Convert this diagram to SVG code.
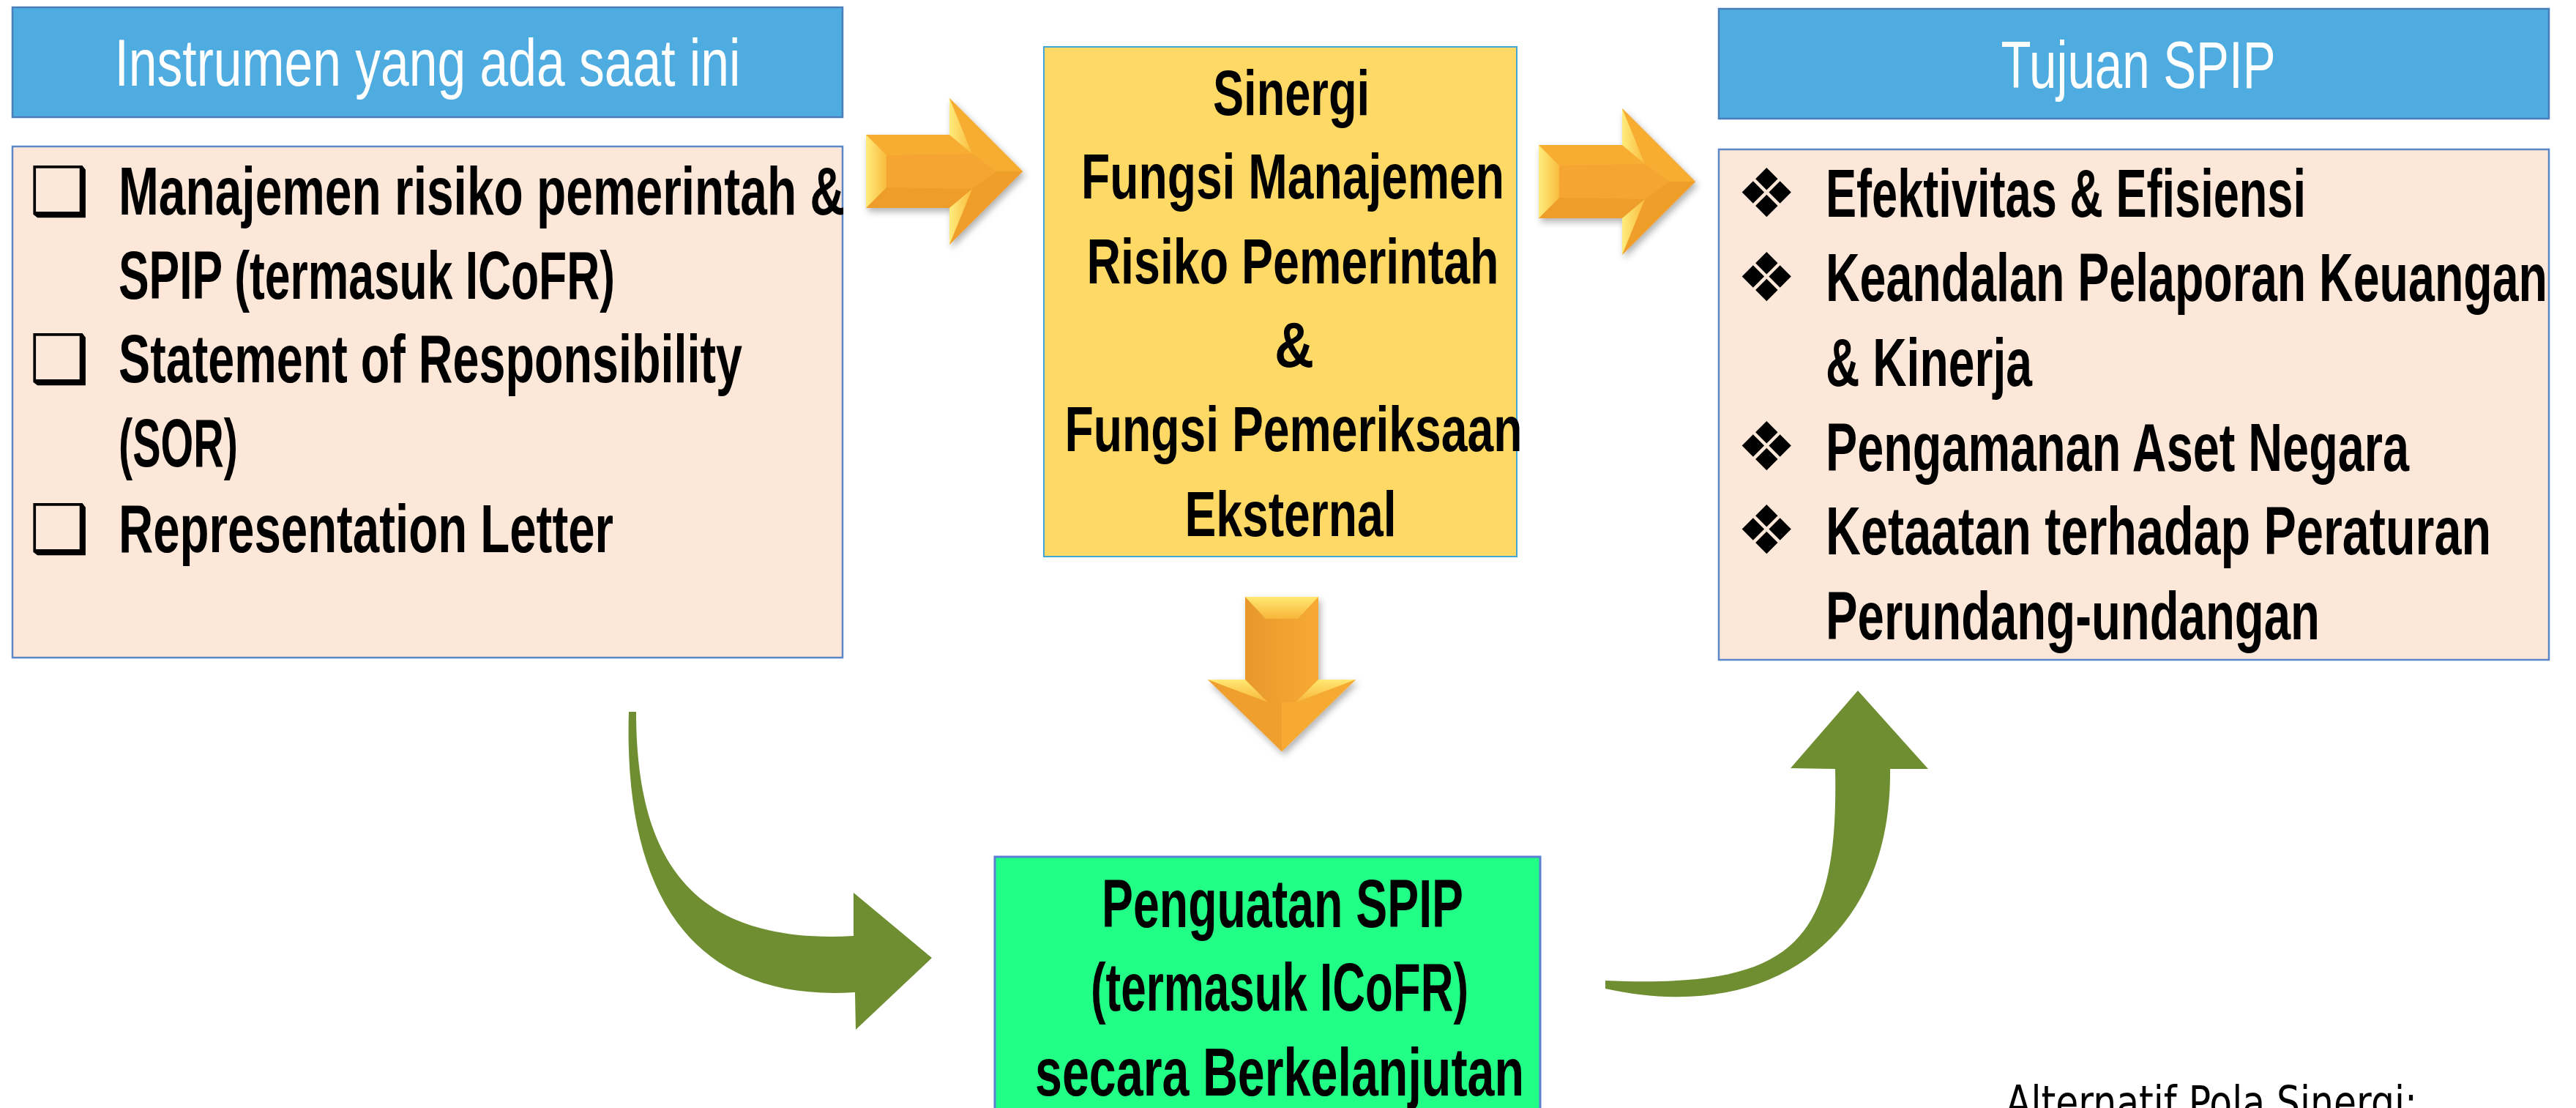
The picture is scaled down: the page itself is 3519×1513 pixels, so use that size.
<svg xmlns="http://www.w3.org/2000/svg" xmlns:xlink="http://www.w3.org/1999/xlink" width="3519" height="1513" viewBox="0 0 3519 1513">
  <style>
    .hdr { fill: #4FACE1; stroke: #4A7EBB; stroke-width: 2.5; }
    .body { fill: #FCE7D8; stroke: #5B86C8; stroke-width: 2.5; }
    .hdr-t { font-family: "Liberation Sans", Arial, sans-serif; font-size: 91px; fill: #FFFFFF; }
    .t { font-family: "Liberation Sans", Arial, sans-serif; font-size: 93px; font-weight: bold; fill: #000000; }
    .tc { font-family: "Liberation Sans", Arial, sans-serif; font-size: 88px; font-weight: bold; fill: #000000; text-anchor: middle; }
    .bul { font-family: "DejaVu Sans", sans-serif; font-size: 92px; fill: #000000; }
    .green { fill: #6E8E31; }
    .note { font-family: "DejaVu Sans", sans-serif; font-size: 62px; fill: #000000; }
  </style>
  <defs>
    <filter id="shadow" x="-20%" y="-20%" width="150%" height="150%">
      <feDropShadow dx="3" dy="5" stdDeviation="5" flood-color="#000000" flood-opacity="0.3"/>
    </filter>
    <linearGradient id="bevelH" x1="0" y1="0" x2="1" y2="0">
      <stop offset="0" stop-color="#FFEC7C"/>
      <stop offset="1" stop-color="#F9BB3E"/>
    </linearGradient>
    <linearGradient id="bevelV" x1="0" y1="0" x2="0" y2="1">
      <stop offset="0" stop-color="#FFE872"/>
      <stop offset="1" stop-color="#F8B53A"/>
    </linearGradient>
    <linearGradient id="shaftV" x1="0" y1="0" x2="1" y2="0">
      <stop offset="0" stop-color="#E8982C"/>
      <stop offset="1" stop-color="#F6AA33"/>
    </linearGradient>
    <!-- bevelled block arrow pointing right, origin at shaft left / centre line -->
    <g id="arrowR">
      <polygon points="0,-50 114,-50 114,-100 214,0 114,100 114,50 0,50" fill="#F4A530"/>
      <polygon points="0,-50 114,-50 145,-24 28,-22" fill="#F7AD33"/>
      <polygon points="0,50 28,22 145,24 114,50" fill="#EE9D2B"/>
      <polygon points="114,-100 214,0 178,0 145,-24" fill="#F7AC32"/>
      <polygon points="114,100 214,0 178,0 145,24" fill="#EF9E2C"/>
      <polygon points="0,-50 28,-22 28,22 0,50" fill="url(#bevelH)"/>
      <polygon points="114,-100 114,-50 145,-24" fill="url(#bevelH)"/>
      <polygon points="114,100 114,50 145,24" fill="url(#bevelH)"/>
    </g>
    <!-- bevelled block arrow pointing down, origin at centre of shaft top -->
    <g id="arrowD">
      <polygon points="-50,0 50,0 50,113 101,113 0,211 -101,113 -50,113" fill="#F4A530"/>
      <rect x="-50" y="0" width="100" height="145" fill="url(#shaftV)"/>
      <polygon points="-101,113 -19,144 0,144 0,211" fill="#EE9F2E"/>
      <polygon points="101,113 19,144 0,144 0,211" fill="#F6AA33"/>
      <polygon points="-50,0 50,0 22,30 -22,30" fill="url(#bevelV)"/>
      <polygon points="-101,113 -50,113 -19,144" fill="url(#bevelV)"/>
      <polygon points="101,113 50,113 19,144" fill="url(#bevelV)"/>
    </g>
  </defs>

  <rect width="3519" height="1513" fill="#FFFFFF"/>

  <!-- current instruments -->
  <g id="node-instrumen">
    <rect class="hdr" x="17" y="10" width="1134" height="150"/>
    <text class="hdr-t" x="584" y="117" text-anchor="middle" textLength="855" lengthAdjust="spacingAndGlyphs">Instrumen yang ada saat ini</text>
    <rect class="body" x="17" y="200" width="1134" height="698"/>
    <text class="bul" x="40" y="293">❑</text>
    <text class="bul" x="40" y="522">❑</text>
    <text class="bul" x="40" y="754">❑</text>
    <text class="t" x="162" y="293" textLength="992" lengthAdjust="spacingAndGlyphs">Manajemen risiko pemerintah &amp;</text>
    <text class="t" x="162" y="408" textLength="678" lengthAdjust="spacingAndGlyphs">SPIP (termasuk ICoFR)</text>
    <text class="t" x="162" y="522" textLength="852" lengthAdjust="spacingAndGlyphs">Statement of Responsibility</text>
    <text class="t" x="162" y="637" textLength="163" lengthAdjust="spacingAndGlyphs">(SOR)</text>
    <text class="t" x="162" y="754" textLength="676" lengthAdjust="spacingAndGlyphs">Representation Letter</text>
  </g>

  <!-- synergy of functions -->
  <g id="node-sinergi">
    <rect x="1426" y="64" width="646" height="696" fill="#FFD966" stroke="#45A5D6" stroke-width="2"/>
    <text class="tc" x="1764" y="157" textLength="214" lengthAdjust="spacingAndGlyphs">Sinergi</text>
    <text class="tc" x="1766" y="271" textLength="578" lengthAdjust="spacingAndGlyphs">Fungsi Manajemen</text>
    <text class="tc" x="1766" y="387" textLength="563" lengthAdjust="spacingAndGlyphs">Risiko Pemerintah</text>
    <text class="tc" x="1768" y="501" textLength="54" lengthAdjust="spacingAndGlyphs">&amp;</text>
    <text class="tc" x="1767" y="616" textLength="625" lengthAdjust="spacingAndGlyphs">Fungsi Pemeriksaan</text>
    <text class="tc" x="1763" y="732" textLength="289" lengthAdjust="spacingAndGlyphs">Eksternal</text>
  </g>

  <!-- SPIP objectives -->
  <g id="node-tujuan">
    <rect class="hdr" x="2348" y="12" width="1134" height="150"/>
    <text class="hdr-t" x="2921" y="120" font-size="93" text-anchor="middle" textLength="375" lengthAdjust="spacingAndGlyphs">Tujuan SPIP</text>
    <rect class="body" x="2348" y="204" width="1134" height="697"/>
    <text class="bul" x="2372" y="296">❖</text>
    <text class="bul" x="2372" y="411">❖</text>
    <text class="bul" x="2372" y="642">❖</text>
    <text class="bul" x="2372" y="756">❖</text>
    <text class="t" x="2494" y="296" textLength="656" lengthAdjust="spacingAndGlyphs">Efektivitas &amp; Efisiensi</text>
    <text class="t" x="2494" y="411" textLength="986" lengthAdjust="spacingAndGlyphs">Keandalan Pelaporan Keuangan</text>
    <text class="t" x="2494" y="527" textLength="282" lengthAdjust="spacingAndGlyphs">&amp; Kinerja</text>
    <text class="t" x="2494" y="643" textLength="797" lengthAdjust="spacingAndGlyphs">Pengamanan Aset Negara</text>
    <text class="t" x="2494" y="757" textLength="909" lengthAdjust="spacingAndGlyphs">Ketaatan terhadap Peraturan</text>
    <text class="t" x="2494" y="873" textLength="675" lengthAdjust="spacingAndGlyphs">Perundang-undangan</text>
  </g>

  <!-- sustained strengthening -->
  <g id="node-penguatan">
    <rect x="1359" y="1170" width="745" height="400" fill="#22FF86" stroke="#5A7FD4" stroke-width="3"/>
    <text class="t" x="1752" y="1266" text-anchor="middle" textLength="494" lengthAdjust="spacingAndGlyphs">Penguatan SPIP</text>
    <text class="t" x="1748" y="1380" text-anchor="middle" textLength="516" lengthAdjust="spacingAndGlyphs">(termasuk ICoFR)</text>
    <text class="t" x="1748" y="1496" text-anchor="middle" textLength="668" lengthAdjust="spacingAndGlyphs">secara Berkelanjutan</text>
  </g>

  <!-- caption at the lower right -->
  <g id="node-alternatif">
    <text class="note" x="2740" y="1527" textLength="562" lengthAdjust="spacingAndGlyphs">Alternatif Pola Sinergi:</text>
  </g>

  <g id="connectors">
    <use xlink:href="#arrowR" transform="translate(1183,234)" filter="url(#shadow)"/>
    <use xlink:href="#arrowR" transform="translate(2102,248)" filter="url(#shadow)"/>
    <use xlink:href="#arrowD" transform="translate(1751,815)" filter="url(#shadow)"/>
    <!-- curved arrow from instruments to strengthening -->
    <path class="green" d="M859,972 L869,972 C869,1180 950,1290 1166,1278 L1166,1219 L1273,1308 L1169,1406 L1168,1355 C930,1370 852,1200 859,972 Z"/>
    <!-- curved arrow from strengthening up to objectives -->
    <path class="green" d="M2193,1339 L2193,1350 C2420,1400 2585,1280 2582,1050 L2634,1050 L2538,943 L2446,1049 L2507,1050 C2512,1290 2450,1350 2193,1339 Z"/>
  </g>
</svg>
